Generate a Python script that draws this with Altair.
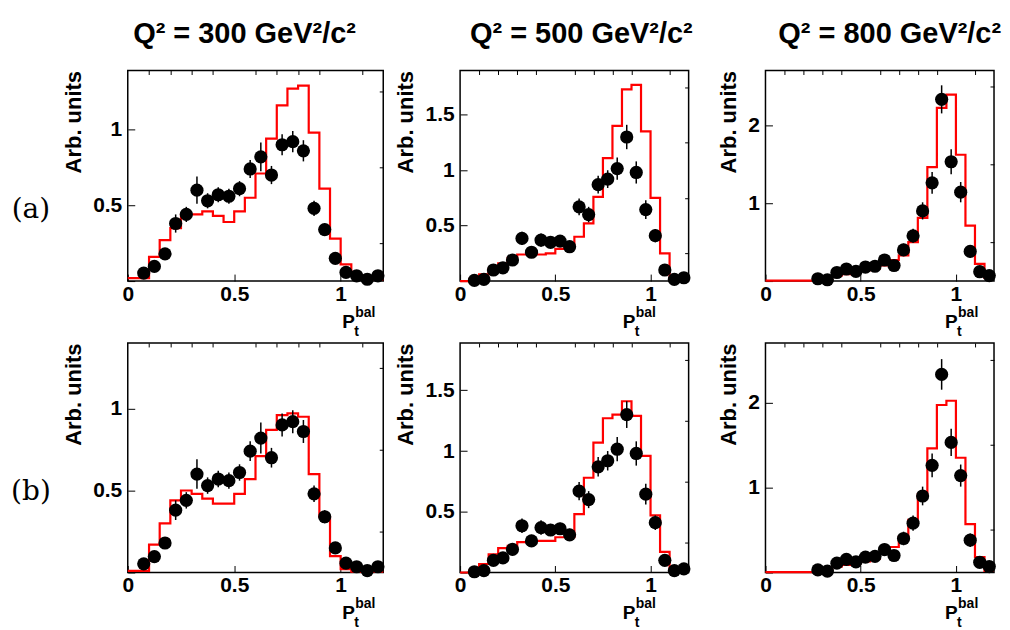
import altair as alt
import pandas as pd

FONT = "Liberation Sans"

# MC histogram bin edges (P_t^bal)
EDGES = [0.0, 0.05, 0.1, 0.15, 0.2, 0.25, 0.3, 0.35, 0.4, 0.45, 0.5, 0.55, 0.6,
         0.65, 0.7, 0.75, 0.8, 0.85, 0.9, 0.95, 1.0, 1.05, 1.1, 1.15, 1.2]

# ---- Q2 = 300 ----
X300 = [0.075, 0.125, 0.175, 0.225, 0.275, 0.325, 0.375, 0.425, 0.475, 0.525, 0.575, 0.625,
        0.675, 0.725, 0.775, 0.825, 0.875, 0.925, 0.975, 1.025, 1.075, 1.125, 1.175]
Y300 = [0.053, 0.097, 0.18, 0.38, 0.44, 0.60, 0.53, 0.57, 0.56, 0.61, 0.74, 0.82,
        0.70, 0.90, 0.92, 0.86, 0.48, 0.34, 0.15, 0.057, 0.035, 0.012, 0.035]
E300 = [0.02, 0.03, 0.03, 0.06, 0.05, 0.09, 0.05, 0.05, 0.05, 0.05, 0.06, 0.095,
        0.06, 0.07, 0.07, 0.07, 0.05, 0.04, 0.03, 0.02, 0.02, 0.01, 0.02]
MC300_A = [0.02, 0.02, 0.16, 0.27, 0.35, 0.44, 0.44, 0.46, 0.43, 0.39, 0.46, 0.55,
           0.71, 0.94, 1.16, 1.27, 1.29, 0.98, 0.61, 0.28, 0.11, 0.04, 0.01, 0.01]
MC300_B = [0.01, 0.01, 0.17, 0.30, 0.44, 0.50, 0.48, 0.45, 0.42, 0.42, 0.48, 0.57,
           0.71, 0.87, 0.96, 0.97, 0.95, 0.60, 0.34, 0.10, 0.02, 0.005, 0.005, 0.005]

# ---- Q2 = 500 ----
X500 = [0.075, 0.125, 0.175, 0.225, 0.275, 0.325, 0.375, 0.425, 0.475, 0.525, 0.575, 0.625,
        0.675, 0.725, 0.775, 0.825, 0.875, 0.925, 0.975, 1.025, 1.075, 1.125, 1.175]
Y500 = [0.006, 0.015, 0.10, 0.12, 0.19, 0.385, 0.26, 0.37, 0.35, 0.36, 0.31, 0.67,
        0.60, 0.87, 0.92, 1.015, 1.30, 0.98, 0.645, 0.41, 0.10, 0.015, 0.03]
E500 = [0.02, 0.02, 0.04, 0.04, 0.05, 0.06, 0.05, 0.06, 0.05, 0.05, 0.05, 0.075,
        0.07, 0.08, 0.08, 0.10, 0.11, 0.10, 0.085, 0.06, 0.04, 0.02, 0.02]
MC500_A = [0.0, 0.02, 0.06, 0.11, 0.16, 0.21, 0.24, 0.24, 0.24, 0.25, 0.29, 0.33,
           0.40, 0.52, 0.76, 1.11, 1.40, 1.73, 1.77, 1.35, 0.75, 0.25, 0.03, 0.01]
MC500_B = [0.0, 0.02, 0.07, 0.15, 0.20, 0.22, 0.25, 0.25, 0.26, 0.26, 0.29, 0.29,
           0.48, 0.78, 1.07, 1.27, 1.30, 1.41, 1.29, 0.96, 0.47, 0.17, 0.01, 0.01]

# ---- Q2 = 800 ----
X800 = [0.275, 0.325, 0.375, 0.425, 0.475, 0.525, 0.575, 0.625, 0.675, 0.725,
        0.775, 0.825, 0.875, 0.925, 0.975, 1.025, 1.075, 1.125, 1.175]
Y800 = [0.03, 0.017, 0.11, 0.155, 0.125, 0.18, 0.19, 0.27, 0.20, 0.40,
        0.58, 0.90, 1.26, 2.33, 1.53, 1.14, 0.38, 0.12, 0.07]
E800 = [0.03, 0.03, 0.05, 0.05, 0.05, 0.06, 0.06, 0.07, 0.06, 0.08,
        0.09, 0.11, 0.14, 0.18, 0.16, 0.13, 0.08, 0.05, 0.04]
MC800_A = [0.005, 0.005, 0.005, 0.005, 0.005, 0.02, 0.04, 0.07, 0.09, 0.11, 0.14, 0.16,
           0.20, 0.27, 0.33, 0.50, 0.81, 1.46, 2.22, 2.39, 1.62, 0.71, 0.22, 0.04]
MC800_B = [0.005, 0.005, 0.005, 0.005, 0.005, 0.02, 0.04, 0.07, 0.09, 0.11, 0.13, 0.16,
           0.22, 0.30, 0.42, 0.62, 0.92, 1.46, 1.97, 2.02, 1.35, 0.57, 0.18, 0.02]

X_LABELS = [0, 0.5, 1]
X_MINOR = [0.1, 0.2, 0.3, 0.4, 0.6, 0.7, 0.8, 0.9, 1.1]

TITLES = ["Q\u00b2 = 300 GeV\u00b2/c\u00b2", "Q\u00b2 = 500 GeV\u00b2/c\u00b2", "Q\u00b2 = 800 GeV\u00b2/c\u00b2"]


def txt(s, x, y, size, align="left", font=FONT, weight="bold"):
    return alt.Chart(alt.Data(values=[{"k": 1}])).mark_text(
        text=s, font=font, fontSize=size, fontWeight=weight, align=align,
        baseline="alphabetic", color="black"
    ).encode(x=alt.value(x), y=alt.value(y))


def panel(xd, yd, ed, mc, ymax, w, h, ymaj, ymin_, plx, title=None, tdx=0, row_label=None):
    xs = alt.Scale(domain=[0, 1.2], nice=False, zero=False)
    ys = alt.Scale(domain=[0, ymax], nice=False, zero=False)
    mcdf = pd.DataFrame({"x": EDGES, "y": mc + [mc[-1]]})
    pts = pd.DataFrame({"x": xd, "y": yd,
                        "lo": [a - b for a, b in zip(yd, ed)],
                        "hi": [a + b for a, b in zip(yd, ed)]})

    xa = alt.Axis(values=X_LABELS, format="~g", tickSize=7, offset=-7, domain=False,
                  labelFont=FONT, labelFontWeight="bold", labelFontSize=21, labelPadding=2,
                  labelColor="black", tickColor="black", tickWidth=1, grid=False, title=None,
                  labelFlush=False, labelOverlap=False)
    ya = alt.Axis(values=[0] + ymaj, labelExpr="datum.value == 0 ? '' : format(datum.value, '~g')",
                  tickSize=7, offset=-7, domain=False,
                  labelFont=FONT, labelFontWeight="bold", labelFontSize=21, labelPadding=6,
                  labelColor="black", tickColor="black", tickWidth=1, grid=False,
                  title="Arb. units", titleFont=FONT, titleFontWeight="bold", titleFontSize=22,
                  titleColor="black", titleAnchor="end", titlePadding=7,
                  labelFlush=False, labelOverlap=False)
    xm = alt.Axis(values=X_MINOR, tickSize=4, offset=-4, domain=False, labels=False,
                  tickColor="black", tickWidth=1, grid=False, title=None)
    ym = alt.Axis(values=ymin_, tickSize=4, offset=-4, domain=False, labels=False,
                  tickColor="black", tickWidth=1, grid=False, title=None)

    line = alt.Chart(mcdf).mark_line(color="#ff0000", strokeWidth=2.2, interpolate="step-after").encode(
        x=alt.X("x:Q", scale=xs, axis=xa),
        y=alt.Y("y:Q", scale=ys, axis=ya),
    )
    bars = alt.Chart(pts).mark_rule(color="black", strokeWidth=1.5).encode(
        x=alt.X("x:Q", scale=xs, axis=xm),
        y=alt.Y("lo:Q", scale=ys, axis=ym),
        y2="hi:Q",
    )
    dots = alt.Chart(pts).mark_circle(size=175, color="black", opacity=1).encode(
        x=alt.X("x:Q", scale=xs, axis=None),
        y=alt.Y("y:Q", scale=ys, axis=None),
    )
    layers = [line, bars, dots,
              txt("P", plx, h + 47, 19, align="left"),
              txt("t", plx + 12, h + 55, 14),
              txt("bal", plx + 13, h + 36, 14)]
    if title:
        layers.append(txt(title, w / 2 + tdx, -28, 29, align="center"))
    if row_label:
        layers.append(txt(row_label, -97, h / 2 + 42, 28, align="center", font="DejaVu Serif", weight="normal"))
    ch = alt.layer(*layers).resolve_axis(x="independent", y="independent")
    return ch.properties(width=w, height=h)


W1, W2 = 256, 229
H1, H2 = 211, 230

panels = [
    panel(X300, Y300, E300, MC300_A, 1.39, W1, H1, [0.5, 1], [0.25, 0.75, 1.25], 215, TITLES[0], -11, "(a)"),
    panel(X500, Y500, E500, MC500_A, 1.9, W2, H1, [0.5, 1, 1.5], [0.25, 0.75, 1.25, 1.75], 163, TITLES[1], 7),
    panel(X800, Y800, E800, MC800_A, 2.7, W2, H1, [1, 2], [0.5, 1.5, 2.5], 180, TITLES[2], 10),
    panel(X300, Y300, E300, MC300_B, 1.40, W1, H2, [0.5, 1], [0.25, 0.75, 1.25], 215, row_label="(b)"),
    panel(X500, Y500, E500, MC500_B, 1.89, W2, H2, [0.5, 1, 1.5], [0.25, 0.75, 1.25, 1.75], 163),
    panel(X800, Y800, E800, MC800_B, 2.7, W2, H2, [1, 2], [0.5, 1.5, 2.5], 180),
]

chart = alt.concat(*panels, columns=3, spacing={"row": 62, "column": 77}, bounds="flush").properties(
    padding={"left": 2, "top": 10, "right": 0, "bottom": 0},
    background="white",
).configure_view(stroke="black", strokeWidth=1.5)

chart.save("out.html", embed_options={"renderer": "svg", "actions": False})
